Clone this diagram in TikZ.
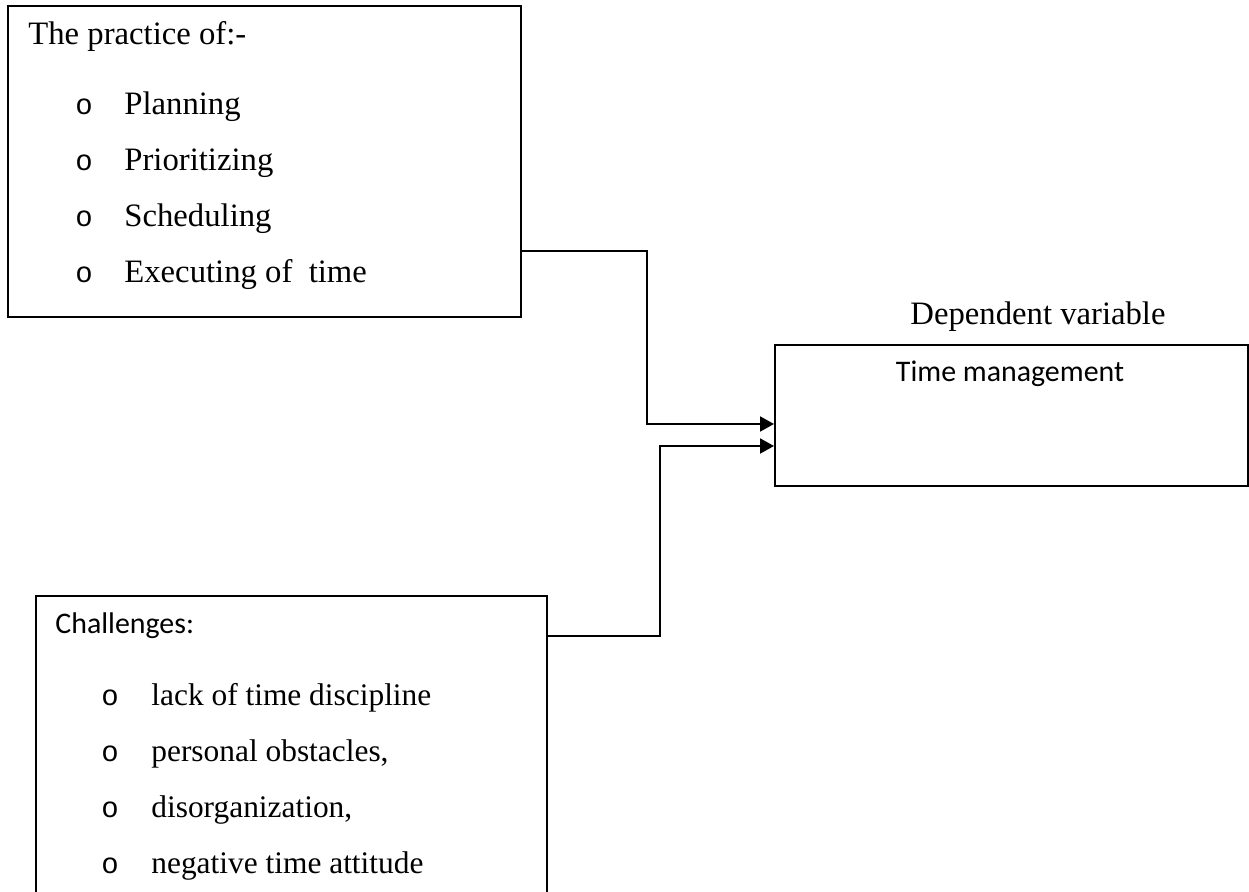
\documentclass[tikz,border=0pt]{standalone}
\usepackage{fontspec}
\setmainfont{Liberation Serif}
\newfontfamily\calib{Carlito}
\newfontfamily\cour{Liberation Mono}
\usetikzlibrary{arrows.meta}
\tikzset{
  box/.style={draw, line width=1pt, minimum width=#1, inner sep=0pt, anchor=north west},
  txt/.style={anchor=base west, inner sep=0pt, font=\fontsize{16.35}{19}\selectfont},
  stxt/.style={anchor=base west, inner sep=0pt, font=\fontsize{15.7}{19}\selectfont},
  ctxt/.style={anchor=base west, inner sep=0pt, font=\calib\fontsize{14.95}{18}\selectfont},
  bul/.style={anchor=base west, inner sep=0pt, font=\cour\fontsize{14.5}{17}\selectfont},
  conn/.style={draw, line width=1pt, -{Triangle[length=7pt,width=7.5pt]}},
}
\begin{document}
\begin{tikzpicture}[x=0.5pt,y=-0.5pt]
\useasboundingbox (0,0) rectangle (1249,892);
% boxes
\node[box=256.5pt, minimum height=155.5pt] (box1) at (7,5) {};
\node[box=255.5pt, minimum height=160pt] (box2) at (35,595) {};
\node[box=236.5pt, minimum height=70.5pt] (box3) at (774,344) {};
% box 1 text
\node[txt] (t1) at (28,45) {The practice of:-};
\node[bul] (b1) at (75,115) {o};
\node[txt] (t2) at (124,115) {Planning};
\node[bul] (b2) at (75,171) {o};
\node[txt] (t3) at (124,171) {Prioritizing};
\node[bul] (b3) at (75,227) {o};
\node[txt] (t4) at (124,227) {Scheduling};
\node[bul] (b4) at (75,283) {o};
\node[txt] (t5) at (124,283) {Executing of\ \ time};
% box 2 text
\node[ctxt] (c1) at (55,634) {Challenges:};
\node[bul] (d1) at (101,706) {o};
\node[stxt] (c2) at (151,706) {lack of time discipline};
\node[bul] (d2) at (101,762) {o};
\node[stxt] (c3) at (151,762) {personal obstacles,};
\node[bul] (d3) at (101,818) {o};
\node[stxt] (c4) at (151,818) {disorganization,};
\node[bul] (d4) at (101,874) {o};
\node[stxt] (c5) at (151,874) {negative time attitude};
% box 3 text
\node[txt, anchor=base] (dv) at (1038,325) {Dependent variable};
\node[ctxt, anchor=base] (tm) at (1010,382) {Time management};
% connectors
\draw[conn] (box1.east |- 0,251) -| (647,424) -- (box3.west |- 0,424);
\draw[conn] (box2.east |- 0,636) -| (660,446) -- (box3.west |- 0,446);
\end{tikzpicture}
\end{document}
